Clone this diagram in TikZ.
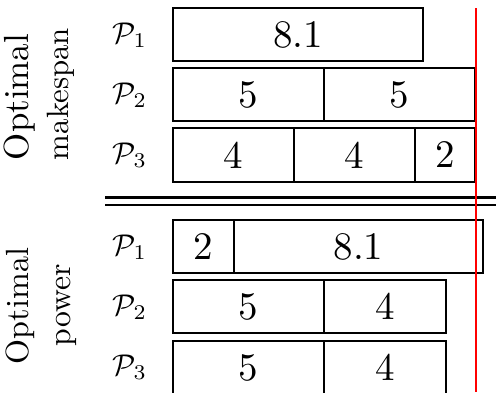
\documentclass[tikz,border=0pt]{standalone}
\newcommand{\segnum}[1]{\scalebox{1.95}{\fontsize{10}{12}\selectfont #1}}
\newcommand{\procname}[1]{\scalebox{1.5}{\fontsize{10}{12}\selectfont $\mathcal{P}_{#1}$}}
\newcommand{\sidetext}[2]{\resizebox{#1}{!}{\fontsize{10}{12}\selectfont #2}}
\begin{document}
\begin{tikzpicture}[x=0.5pt,y=-0.5pt,
  seg/.style={draw, line width=0.65pt, inner sep=0pt, outer sep=0pt, anchor=north west,
    minimum height=26.5pt},
  proc/.style={inner sep=0pt},
  side/.style={rotate=90, anchor=base, inner sep=0pt},
  sep/.style={line width=1.3pt},
  limit/.style={red, line width=0.75pt}]
\useasboundingbox (0,0) rectangle (496,392);
% side labels
\node[side] (lt1) at (28,97) {\sidetext{63pt}{Optimal}};
\node[side] (lt2) at (68,94) {\sidetext{66pt}{makespan}};
\node[side] (lb1) at (28,306) {\sidetext{58pt}{Optimal}};
\node[side] (lb2) at (70,305) {\sidetext{41pt}{power}};
% processor labels
\node[proc] (tp1) at (130,35) {\procname{1}};
\node[proc] (tp2) at (130,95) {\procname{2}};
\node[proc] (tp3) at (130,155) {\procname{3}};
\node[proc] (bp1) at (130,247) {\procname{1}};
\node[proc] (bp2) at (130,307) {\procname{2}};
\node[proc] (bp3) at (130,367) {\procname{3}};
% optimal makespan
\node[seg, minimum width=125pt] (a11) at (173,8) {\segnum{8.1}};
\node[seg, minimum width=75.5pt] (a21) at (173,68) {\segnum{5}};
\node[seg, minimum width=75.5pt] (a22) at (a21.north east) {\segnum{5}};
\node[seg, minimum width=60.5pt, minimum height=27pt] (a31) at (173,128) {\segnum{4}};
\node[seg, minimum width=60.5pt, minimum height=27pt] (a32) at (a31.north east) {\segnum{4}};
\node[seg, minimum width=30pt, minimum height=27pt] (a33) at (a32.north east) {\segnum{2}};
% optimal power
\node[seg, minimum width=30.5pt] (b11) at (173,220) {\segnum{2}};
\node[seg, minimum width=124.5pt] (b12) at (b11.north east) {\segnum{8.1}};
\node[seg, minimum width=75.5pt] (b21) at (173,280) {\segnum{5}};
\node[seg, minimum width=61pt] (b22) at (b21.north east) {\segnum{4}};
\node[seg, minimum width=75.5pt] (b31) at (173,341) {\segnum{5}};
\node[seg, minimum width=61pt] (b32) at (b31.north east) {\segnum{4}};
% separator
\coordinate (s1l) at (105,197.7);
\coordinate (s1r) at (496,197.7);
\coordinate (s2l) at (105,205);
\coordinate (s2r) at (496,205);
\draw[sep] (s1l) -- (s1r);
\draw[sep] (s2l) -- (s2r);
% red limit
\coordinate (rt) at (476,8);
\coordinate (rb) at (476,392);
\draw[limit] (rt) -- (rb);
\end{tikzpicture}
\end{document}
